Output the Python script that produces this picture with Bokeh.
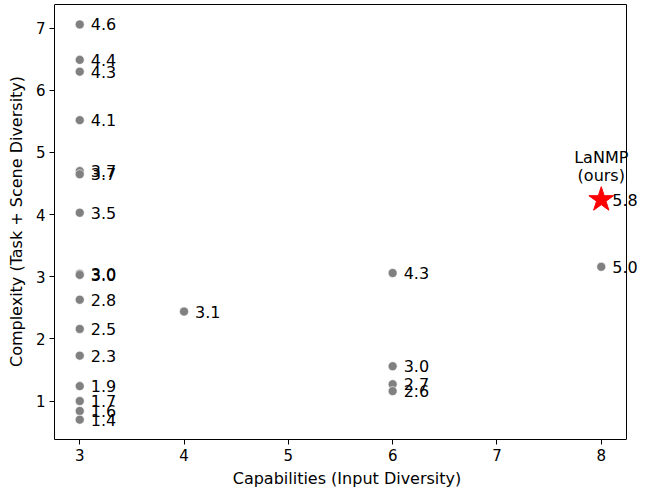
from bokeh.plotting import figure
from bokeh.models import ColumnDataSource, Range1d, FixedTicker
from bokeh.core.properties import value
from bokeh.embed import file_html
from bokeh.resources import INLINE

# Other datasets (grey points)
capabilities = [3, 3, 3, 3, 3, 3, 3, 3, 3, 3, 3, 3, 3, 3, 3, 3,
                4, 6, 6, 6, 6, 8]
complexity = [7.06, 6.49, 6.30, 5.52, 4.70, 4.65, 4.03, 3.05, 3.03, 2.63,
              2.16, 1.73, 1.24, 1.00, 0.84, 0.70,
              2.44, 3.06, 1.56, 1.27, 1.16, 3.16]
scores = ["4.6", "4.4", "4.3", "4.1", "3.7", "3.7", "3.5", "3.0", "3.0", "2.8",
          "2.5", "2.3", "1.9", "1.7", "1.6", "1.4",
          "3.1", "4.3", "3.0", "2.7", "2.6", "5.0"]

# Ours
ours_cap = [8]
ours_complexity = [4.24]
ours_score = ["5.8"]
ours_name = ["LaNMP"]
ours_tag = ["(ours)"]

# axes limits (visible box)
X0, X1 = 2.758, 8.242
Y0, Y1 = 0.381, 7.381

BOX_W, BOX_H = 572, 435
EXTRA_R, EXTRA_T = 13, 1
xs = BOX_W / (X1 - X0)
ys = BOX_H / (Y1 - Y0)

p = figure(frame_width=BOX_W + EXTRA_R, frame_height=BOX_H + EXTRA_T,
           output_backend="svg", toolbar_location=None,
           x_range=Range1d(X0, X1 + EXTRA_R / xs),
           y_range=Range1d(Y0, Y1 + EXTRA_T / ys),
           min_border_left=54, min_border_right=0, min_border_top=3,
           min_border_bottom=42)

FONT = value("DejaVu Sans")

src = ColumnDataSource(dict(x=capabilities, y=complexity, t=scores))
p.scatter("x", "y", source=src, size=9, color="#808080", line_color="white",
          line_width=0.6)
p.text("x", "y", text="t", source=src, x_offset=11, text_baseline="middle",
       text_align="left", text_font=FONT, text_font_size="16px",
       text_color="black")

osrc = ColumnDataSource(dict(x=ours_cap, y=ours_complexity, t=ours_score,
                             n=ours_name, o=ours_tag))
p.scatter("x", "y", source=osrc, marker="star", size=26, color="red",
          line_color="red")
p.text("x", "y", text="t", source=osrc, x_offset=11, text_baseline="middle",
       text_align="left", text_font=FONT, text_font_size="16px",
       text_color="black")
p.text("x", "y", text="n", source=osrc, y_offset=-42, text_baseline="middle",
       text_align="center", text_font=FONT, text_font_size="16px",
       text_color="black")
p.text("x", "y", text="o", source=osrc, y_offset=-24, text_baseline="middle",
       text_align="center", text_font=FONT, text_font_size="16px",
       text_color="black")

# top and right borders of the axes box
p.segment(x0=[X0, X1], y0=[Y1, Y0], x1=[X1, X1], y1=[Y1, Y1],
          line_color="black", line_width=1)

p.xgrid.visible = False
p.ygrid.visible = False
p.outline_line_color = None

p.xaxis.ticker = FixedTicker(ticks=[3, 4, 5, 6, 7, 8])
p.yaxis.ticker = FixedTicker(ticks=[1, 2, 3, 4, 5, 6, 7])
p.xaxis.bounds = (X0, X1)
p.yaxis.bounds = (Y0, Y1)
p.xaxis.axis_label = "Capabilities (Input Diversity)"
p.yaxis.axis_label = "Complexity (Task + Scene Diversity)"
for ax in (p.xaxis, p.yaxis):
    ax.axis_label_text_font = "DejaVu Sans"
    ax.axis_label_text_font_style = "normal"
    ax.axis_label_text_font_size = "16px"
    ax.axis_label_text_color = "black"
    ax.major_label_text_font = "DejaVu Sans"
    ax.major_label_text_font_size = "15px"
    ax.major_label_text_color = "black"
    ax.minor_tick_line_color = None
    ax.major_tick_in = 0
    ax.major_tick_out = 5
    ax.major_tick_line_color = "black"
    ax.axis_line_color = "black"
p.xaxis.axis_label_standoff = 5
p.yaxis.axis_label_standoff = 7
p.xaxis.major_label_standoff = 4
p.yaxis.major_label_standoff = 4

open("out.html", "w").write(file_html(p, INLINE))
